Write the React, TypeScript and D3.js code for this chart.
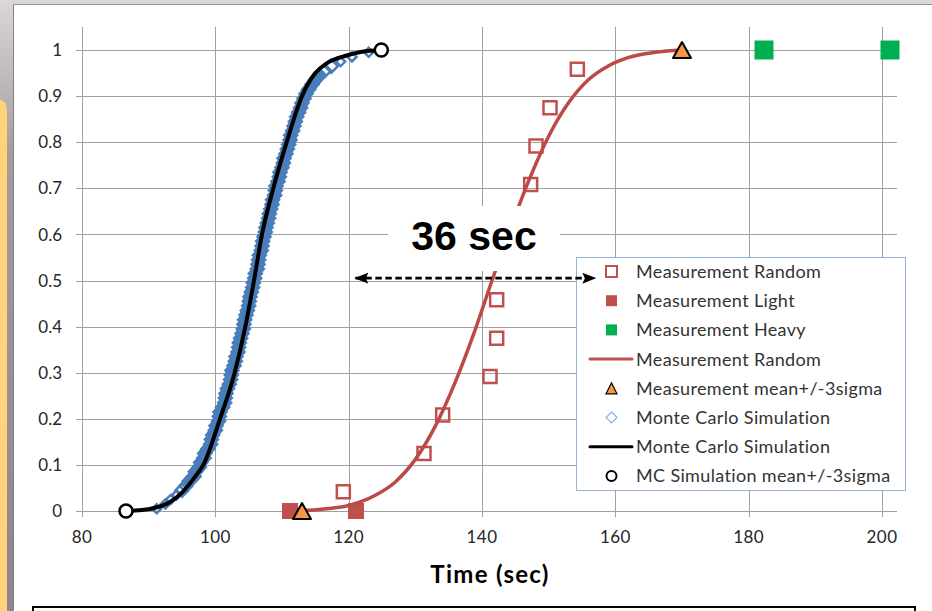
import React from 'react';
import * as d3 from 'd3';

// measured CDF, random load (time in sec, cumulative probability)
const measRandomX = [119.2, 131.3, 134.1, 141.2, 142.2, 142.2, 143.6, 145.2, 147.3, 148.1, 150.2, 154.3];
const measRandomY = [0.042, 0.125, 0.208, 0.292, 0.375, 0.458, 0.542, 0.625, 0.708, 0.792, 0.875, 0.958];
const measLightX = [111.2, 121.1];
const measLightY = [0, 0];
const measHeavyX = [182.3, 201.2];
const measHeavyY = [1, 1];
// fitted curve through the measurements
const measFitX = [113, 116, 120, 124, 127, 130, 133, 136, 139, 141.5, 144, 147, 150, 153, 156, 159, 162, 166, 170];
const measFitY = [0.001, 0.004, 0.012, 0.034, 0.063, 0.112, 0.184, 0.28, 0.394, 0.5, 0.602, 0.716, 0.813, 0.886, 0.936, 0.966, 0.984, 0.995, 1];
const measSigmaX = [113, 170];
const measSigmaY = [0, 1];
// monte carlo samples
const mcSampleX = [
  91.2, 92.5, 93.3, 94.2, 95.0, 95.6, 96.1, 96.8, 97.0, 97.6,
  97.8, 98.3, 98.4, 98.9, 99.3, 99.4, 99.6, 100.0, 100.1, 100.5,
  100.6, 100.7, 101.1, 101.4, 101.5, 101.6, 101.8, 102.1, 102.3, 102.4,
  102.5, 102.8, 103.0, 103.1, 103.4, 103.5, 103.6, 103.8, 104.0, 104.2,
  104.3, 104.4, 104.6, 104.8, 105.0, 105.1, 105.2, 105.4, 105.6, 105.7,
  105.9, 106.0, 106.3, 106.4, 106.5, 106.6, 106.9, 107.0, 107.1, 107.3,
  107.5, 107.6, 107.8, 108.0, 108.1, 108.3, 108.5, 108.6, 108.9, 109.0,
  109.1, 109.4, 109.6, 109.7, 110.0, 110.2, 110.3, 110.6, 110.8, 111.0,
  111.2, 111.3, 111.6, 111.8, 112.0, 112.2, 112.5, 112.8, 113.0, 113.3,
  113.6, 114.0, 114.5, 115.0, 115.6, 116.4, 117.4, 118.8, 120.5, 123.0,
];
const mcSampleY = [
  0.005, 0.015, 0.025, 0.035, 0.045, 0.055, 0.065, 0.075, 0.085, 0.095,
  0.105, 0.115, 0.125, 0.135, 0.145, 0.155, 0.165, 0.175, 0.185, 0.195,
  0.205, 0.215, 0.225, 0.235, 0.245, 0.255, 0.265, 0.275, 0.285, 0.295,
  0.305, 0.315, 0.325, 0.335, 0.345, 0.355, 0.365, 0.375, 0.385, 0.395,
  0.405, 0.415, 0.425, 0.435, 0.445, 0.455, 0.465, 0.475, 0.485, 0.495,
  0.505, 0.515, 0.525, 0.535, 0.545, 0.555, 0.565, 0.575, 0.585, 0.595,
  0.605, 0.615, 0.625, 0.635, 0.645, 0.655, 0.665, 0.675, 0.685, 0.695,
  0.705, 0.715, 0.725, 0.735, 0.745, 0.755, 0.765, 0.775, 0.785, 0.795,
  0.805, 0.815, 0.825, 0.835, 0.845, 0.855, 0.865, 0.875, 0.885, 0.895,
  0.905, 0.915, 0.925, 0.935, 0.945, 0.955, 0.965, 0.975, 0.985, 0.995,
];
const mcFitX = [86.6, 89, 91, 93, 95, 97, 98.2, 100.7, 102.9, 104.5, 105.8, 107.0, 108.7, 110.7, 113.0, 115.0, 116.7, 119.7, 122.0, 124.9];
const mcFitY = [0, 0.002, 0.007, 0.018, 0.04, 0.075, 0.1, 0.2, 0.3, 0.4, 0.5, 0.6, 0.7, 0.8, 0.9, 0.95, 0.971, 0.988, 0.996, 1];
const mcSigmaX = [86.6, 124.9];
const mcSigmaY = [0, 1];

const xTicks = [80, 100, 120, 140, 160, 180, 200];
const yTicks = [0, 0.1, 0.2, 0.3, 0.4, 0.5, 0.6, 0.7, 0.8, 0.9, 1];
const legendLabels = [
  'Measurement Random',
  'Measurement Light',
  'Measurement Heavy',
  'Measurement Random',
  'Measurement mean+/-3sigma',
  'Monte Carlo Simulation',
  'Monte Carlo Simulation',
  'MC Simulation mean+/-3sigma',
];
const gapLabel = '36 sec';
const gapFrom = 121;
const gapTo = 157;
const gapAt = 0.505;

const RED = '#c0504d';
const GREEN = '#00b050';
const ORANGE = '#f79646';
const BLUE = '#4a7ebb';
const GRID = '#a0a0a0';
const FONT = 'Lato, "Open Sans", sans-serif';

const zip = (xs: number[], ys: number[]) => xs.map((v, i) => [v, ys[i]] as [number, number]);

const square = (s: number) => `M${-s / 2},${-s / 2}h${s}v${s}h${-s}Z`;
const diamond = (r: number) => `M0,${-r}L${r},0L0,${r}L${-r},0Z`;
const triangle = (w: number, h: number) => `M0,${-h / 2}L${w / 2},${h / 2}L${-w / 2},${h / 2}Z`;

export default function App() {
  const x = d3.scaleLinear().domain([80, 200]).range([82, 882]);
  const y = d3.scaleLinear().domain([0, 1]).range([511, 50]);
  const plotTop = 27;
  const plotRight = 897;

  const line = d3.line<[number, number]>()
    .x(d => x(d[0]))
    .y(d => y(d[1]))
    .curve(d3.curveMonotoneX);
  const rough = d3.line<[number, number]>()
    .x(d => x(d[0]))
    .y(d => y(d[1]));

  const samples = zip(mcSampleX, mcSampleY);
  // the dense middle of the sample cloud reads as a solid band
  const dense = samples.filter(d => d[1] > 0.06 && d[1] < 0.95);

  const legendTop = 271.5;
  const legendStep = 29.2;
  const symX = 611.5;

  return (
    <svg width={932} height={611} style={{ position: 'absolute', left: 0, top: 0 }}>
      <defs>
        <linearGradient id="side" x1="0" y1="0" x2="0" y2="1">
          <stop offset="0" stopColor="#dcd6d6" />
          <stop offset="0.25" stopColor="#a59c9e" />
          <stop offset="1" stopColor="#8d8490" />
        </linearGradient>
        <marker id="head" viewBox="0 0 14 12" refX="13" refY="6" markerWidth="14" markerHeight="12"
          markerUnits="userSpaceOnUse" orient="auto-start-reverse">
          <path d="M14,6L0,0.5L2.5,6L0,11.5Z" fill="#000" />
        </marker>
      </defs>

      {/* slide frame */}
      <rect x={0} y={0} width={932} height={611} fill="#fff" />
      <rect x={0} y={0} width={932} height={5} fill="#dcd7d7" />
      <rect x={0} y={0} width={14} height={611} fill="url(#side)" />
      <path d="M0,100Q7,100 7,112V611H0Z" fill="#ffd27c" />
      <line x1={13.5} y1={4.5} x2={13.5} y2={611} stroke="#858080" />
      <line x1={13} y1={4.5} x2={932} y2={4.5} stroke="#979292" />

      {/* grid */}
      <g>
        {yTicks.map(t => (
          <line key={'h' + t} x1={76} x2={plotRight} y1={Math.round(y(t)) + 0.5} y2={Math.round(y(t)) + 0.5}
            stroke={GRID} />
        ))}
        {xTicks.map(t => (
          <line key={'v' + t} x1={Math.round(x(t)) + 0.5} x2={Math.round(x(t)) + 0.5} y1={plotTop} y2={517}
            stroke={GRID} />
        ))}
      </g>

      {/* tick labels */}
      <g fontFamily={FONT} fontSize={17} fill="#262626">
        {yTicks.map(t => (
          <text key={'yl' + t} x={62} y={y(t)} dy="0.36em" textAnchor="end">{d3.format('~g')(t)}</text>
        ))}
        {xTicks.map(t => (
          <text key={'xl' + t} x={x(t)} y={543} textAnchor="middle" letterSpacing={0.4}>{t}</text>
        ))}
      </g>
      <text x={490} y={583} textAnchor="middle" fontFamily={FONT} fontWeight="bold" fontSize={24}
        letterSpacing={1.3} fill="#000">
        Time (sec)
      </text>

      {/* measurement random: open squares + fitted line */}
      <g>
        {zip(measRandomX, measRandomY).map((d, i) => (
          <path key={'mr' + i} d={square(13)} transform={`translate(${x(d[0])},${y(d[1])})`}
            fill="none" stroke={RED} strokeWidth={2.5} />
        ))}
        {zip(measLightX, measLightY).map((d, i) => (
          <path key={'ml' + i} d={square(16)} transform={`translate(${x(d[0])},${y(d[1])})`} fill={RED} />
        ))}
        {zip(measHeavyX, measHeavyY).map((d, i) => (
          <path key={'mh' + i} d={square(19)} transform={`translate(${x(d[0])},${y(d[1])})`} fill={GREEN} />
        ))}
        <path d={line(zip(measFitX, measFitY)) || ''} fill="none" stroke="#bb4a46" strokeWidth={3.5} />
        {zip(measSigmaX, measSigmaY).map((d, i) => (
          <path key={'ms' + i} d={triangle(18, 16)} transform={`translate(${x(d[0])},${y(d[1])})`}
            fill={ORANGE} stroke="#000" strokeWidth={2} strokeLinejoin="round" />
        ))}
      </g>

      {/* monte carlo */}
      <g>
        <path d={rough(dense) || ''} fill="none" stroke={BLUE} strokeWidth={12} strokeLinejoin="round"
          strokeLinecap="round" />
        {samples.map((d, i) => (
          <path key={'mc' + i} d={diamond(d[1] < 0.04 || d[1] > 0.97 ? 4.5 : 6.5)}
            transform={`translate(${x(d[0])},${y(d[1])})`}
            fill="none" stroke={BLUE} strokeWidth={2.5} />
        ))}
        <path d={line(zip(mcFitX, mcFitY)) || ''} fill="none" stroke="#000" strokeWidth={4} />
        {zip(mcSigmaX, mcSigmaY).map((d, i) => (
          <circle key={'cs' + i} cx={x(d[0])} cy={y(d[1])} r={6.5} fill="#fff" stroke="#000" strokeWidth={2.5} />
        ))}
      </g>

      {/* annotation */}
      <rect x={388} y={206} width={172} height={65} fill="#fff" />
      <text x={474} y={250} textAnchor="middle" fontFamily='"Liberation Sans", Arial, sans-serif'
        fontWeight="bold" fontSize={41} fill="#000">{gapLabel}</text>

      {/* legend */}
      <g>
        <rect x={576.5} y={257.5} width={329} height={233} fill="#fff" stroke="#95b3d7" />
        <path d={square(11)} transform={`translate(${symX},${legendTop})`} fill="#fff" stroke={RED} strokeWidth={2} />
        <path d={square(11)} transform={`translate(${symX},${legendTop + legendStep})`} fill={RED} />
        <path d={square(11)} transform={`translate(${symX},${legendTop + 2 * legendStep})`} fill={GREEN} />
        <line x1={590} x2={632} y1={legendTop + 3 * legendStep} y2={legendTop + 3 * legendStep}
          stroke={RED} strokeWidth={3} strokeLinecap="round" />
        <path d={triangle(11, 11)} transform={`translate(${symX},${legendTop + 4 * legendStep})`}
          fill={ORANGE} stroke="#000" strokeWidth={1.2} />
        <path d={diamond(5.5)} transform={`translate(${symX},${legendTop + 5 * legendStep})`}
          fill="#fff" stroke="#8eb4e3" strokeWidth={1.2} />
        <line x1={590} x2={632} y1={legendTop + 6 * legendStep} y2={legendTop + 6 * legendStep}
          stroke="#000" strokeWidth={3} strokeLinecap="round" />
        <circle cx={symX} cy={legendTop + 7 * legendStep} r={5} fill="#fff" stroke="#000" strokeWidth={2} />
        <g fontFamily={FONT} fontSize={18} fill="#333" letterSpacing={0.35}>
          {legendLabels.map((l, i) => (
            <text key={'lg' + i} x={636} y={legendTop + i * legendStep} dy="0.36em">{l}</text>
          ))}
        </g>
      </g>

      {/* gap arrow */}
      <line x1={x(gapFrom)} x2={x(gapTo)} y1={y(gapAt)} y2={y(gapAt)}
        stroke="#000" strokeWidth={2.7} strokeDasharray="6.5 3.5"
        markerStart="url(#head)" markerEnd="url(#head)" />

      {/* caption box at bottom */}
      <rect x={33} y={607} width={882} height={12} fill="#fff" stroke="#000" strokeWidth={2} />
    </svg>
  );
}
